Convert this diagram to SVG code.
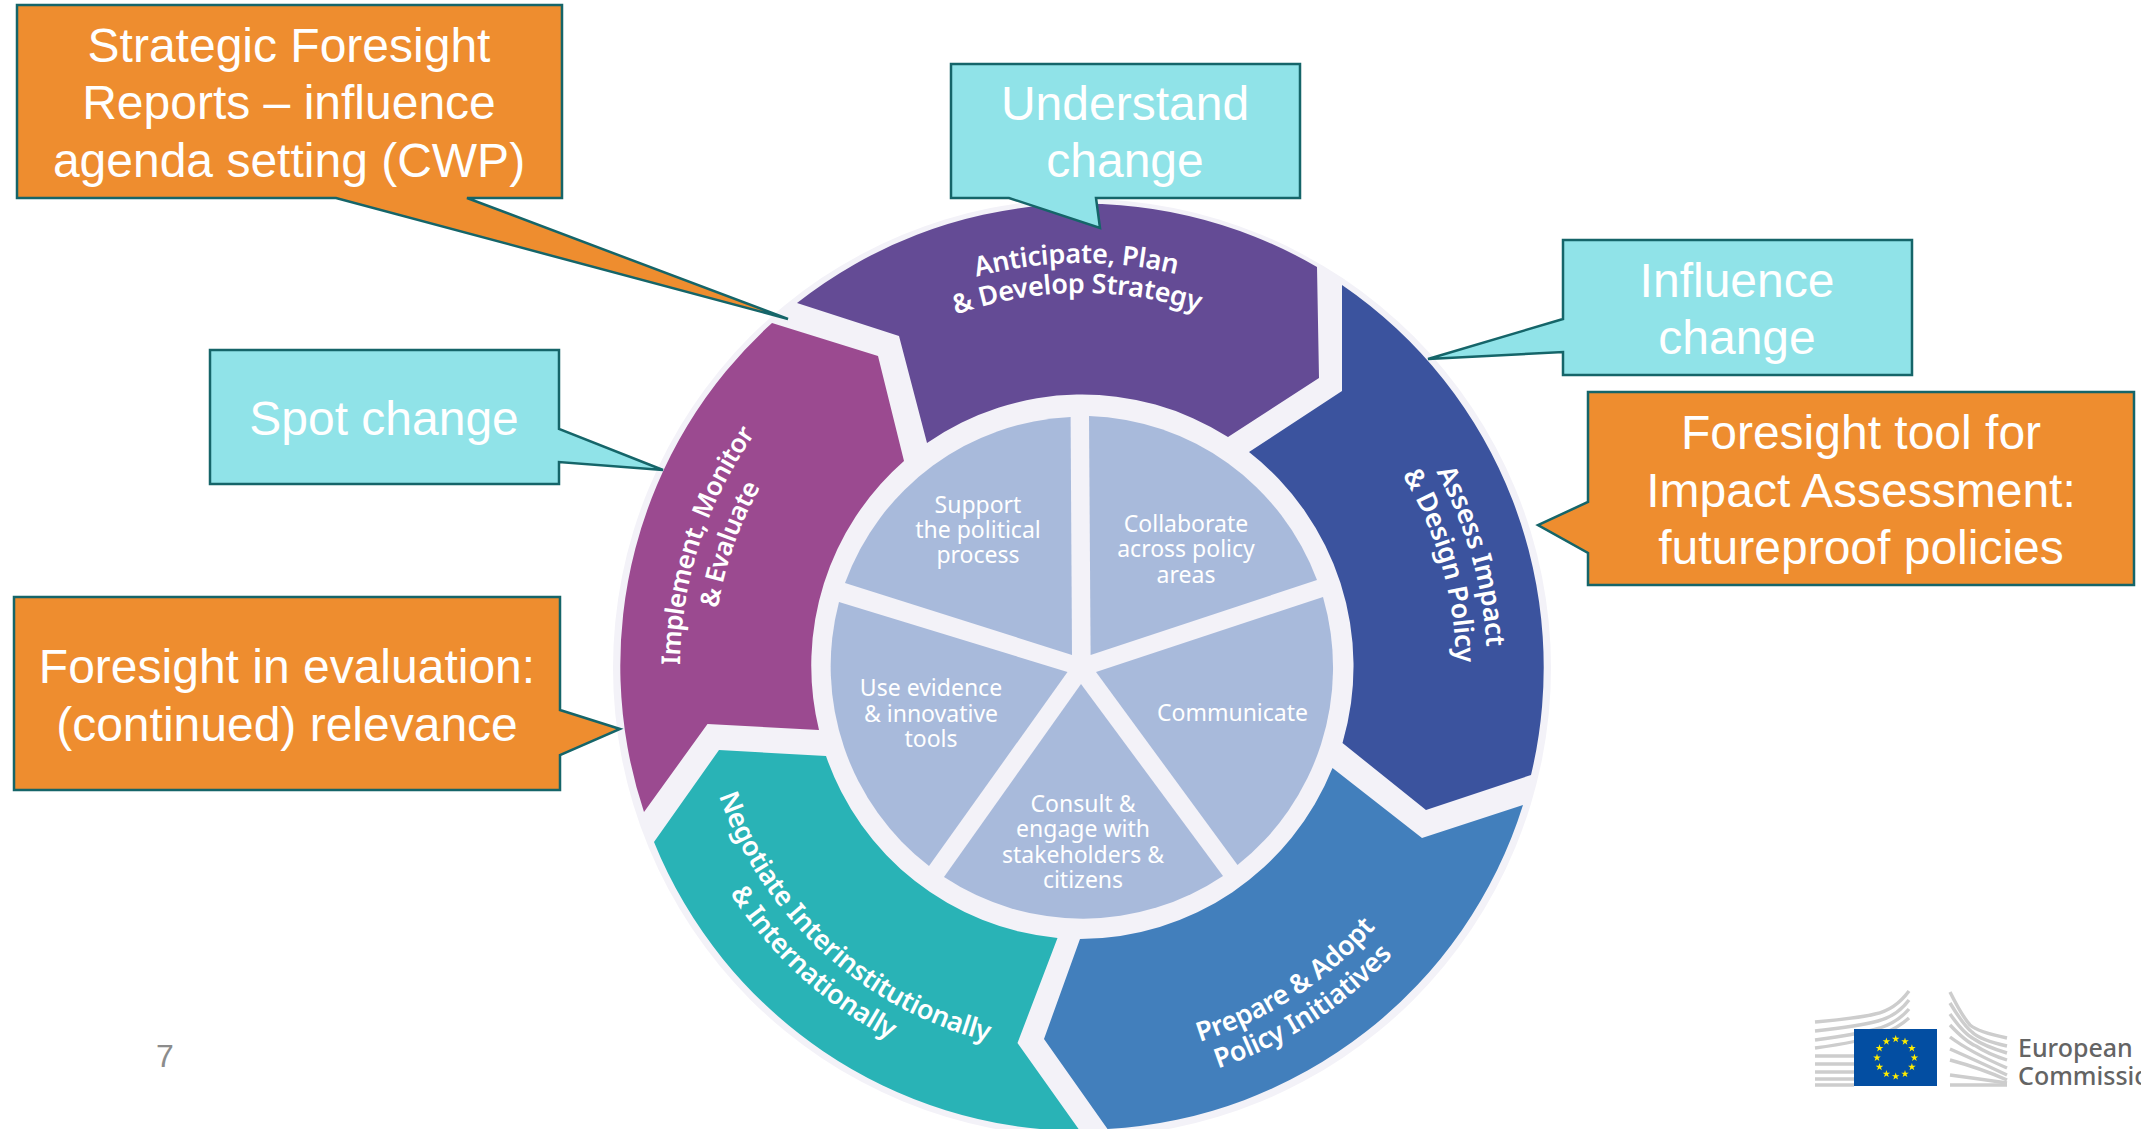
<svg xmlns="http://www.w3.org/2000/svg" width="2141" height="1129" viewBox="0 0 2141 1129">
<style>
.co{fill:#EE8D2F;stroke:#156569;stroke-width:2.5}
.cy{fill:#90E3E8;stroke:#156569;stroke-width:2.5}
.ct{font-family:"Liberation Sans",Arial,sans-serif;font-size:48px;fill:#fff;text-anchor:middle}
.rt{font-family:"Noto Sans",sans-serif;font-size:27px;font-weight:600;fill:#fff;text-anchor:middle;letter-spacing:-.3px}
.im{font-size:26px;letter-spacing:-.6px}
.it{font-family:"Noto Sans",sans-serif;font-size:23px;fill:#fff;text-anchor:middle}
.wedge{fill:#A8BADB}
.bl{fill:none;stroke:#CDCDCD;stroke-width:3.4}
</style>
<defs>
<path id="a1" d="M874.6 320.1A405 405 0 0 1 1279.6 314.4"/>
<path id="a2" d="M890 345.9A375 375 0 0 1 1265 340.6"/>
<path id="b1" d="M1363.3 376.7A405 405 0 0 1 1475 766"/>
<path id="b2" d="M1341.8 399A374 374 0 0 1 1444.9 758.5"/>
<path id="c1" d="M1102.5 1059.5A392 392 0 0 0 1431.3 846"/>
<path id="c2" d="M1104.1 1090.4A423 423 0 0 0 1458.9 860"/>
<path id="d1" d="M706.3 752A385 385 0 0 0 1032.4 1049.8"/>
<path id="d2" d="M674.2 759.2A418 418 0 0 0 1028.2 1082.5"/>
<path id="e1" d="M688.8 751.6A402 402 0 0 1 813 369.3"/>
<path id="e2" d="M719.3 736.5A369 369 0 0 1 841.4 388.3"/>
<polygon id="star" fill="#FFED00" points="0,-4 .9,-1.25 3.8,-1.25 1.5,.45 2.35,3.2 0,1.55 -2.35,3.2 -1.5,.45 -3.8,-1.25 -.9,-1.25"/>
</defs>
<rect width="2141" height="1129" fill="#fff"/>
<circle id="wheel-base" cx="1082" cy="668" r="469" fill="#F3F2F8"/>
<g id="seg-anticipate"><path fill="#644B95" d="M797 303A463 463 0 0 1 1317 267L1319 378L1228 437A272 272 0 0 0 927 443L899 336Z"/>
<text class="rt"><textPath href="#a1" startOffset="50%">Anticipate, Plan</textPath></text>
<text class="rt"><textPath href="#a2" startOffset="50%">&amp; Develop Strategy</textPath></text></g>
<g id="seg-assess"><path fill="#3B539E" d="M1342 285A463 463 0 0 1 1531 775L1426 810L1342.5 743A272 272 0 0 0 1249 452L1342 391Z"/>
<text class="rt"><textPath href="#b1" startOffset="50%">Assess Impact</textPath></text>
<text class="rt"><textPath href="#b2" startOffset="50%">&amp; Design Policy</textPath></text></g>
<g id="seg-prepare"><path fill="#427FBC" d="M1080 939A272 272 0 0 0 1332.5 768L1422 838L1523 805A463 463 0 0 1 1107.5 1129L1044 1039Z"/>
<text class="rt"><textPath href="#c1" startOffset="50%">Prepare &amp; Adopt</textPath></text>
<text class="rt"><textPath href="#c2" startOffset="50%">Policy Initiatives</textPath></text></g>
<g id="seg-negotiate"><path fill="#29B3B6" d="M719 750L826 756A272 272 0 0 0 1057.5 938L1017.5 1043L1080 1131A463 463 0 0 1 654 842Z"/>
<text class="rt"><textPath href="#d1" startOffset="50%">Negotiate Interinstitutionally</textPath></text>
<text class="rt"><textPath href="#d2" startOffset="50%">&amp; Internationally</textPath></text></g>
<g id="seg-implement"><path fill="#9B4A90" d="M772 323A463 463 0 0 0 644 812L707.5 724L819 730A272 272 0 0 1 904 461L878 356Z"/>
<text class="rt im"><textPath href="#e1" startOffset="50%">Implement, Monitor</textPath></text>
<text class="rt im"><textPath href="#e2" startOffset="50%">&amp; Evaluate</textPath></text></g>
<g id="wedge-support"><path class="wedge" d="M1070.6 417A252 252 0 0 0 845 583L1072 655Z"/>
<text class="it" x="978" y="513">Support</text><text class="it" x="978" y="538">the political</text><text class="it" x="978" y="563">process</text></g>
<g id="wedge-collaborate"><path class="wedge" d="M1089 416A252 252 0 0 1 1317 580L1090.6 655Z"/>
<text class="it" x="1186" y="532">Collaborate</text><text class="it" x="1186" y="557">across policy</text><text class="it" x="1186" y="583">areas</text></g>
<g id="wedge-communicate"><path class="wedge" d="M1323 597A252 252 0 0 1 1237.5 865L1096 672Z"/>
<text class="it" x="1232.5" y="721">Communicate</text></g>
<g id="wedge-consult"><path class="wedge" d="M1081 684L1223 876A252 252 0 0 1 944 877Z"/>
<text class="it" x="1083" y="812">Consult &amp;</text><text class="it" x="1083" y="837">engage with</text><text class="it" x="1083" y="863">stakeholders &amp;</text><text class="it" x="1083" y="888">citizens</text></g>
<g id="wedge-evidence"><path class="wedge" d="M1067.5 672L929 866A252 252 0 0 1 839 602Z"/>
<text class="it" x="931" y="696">Use evidence</text><text class="it" x="931" y="722">&amp; innovative</text><text class="it" x="931" y="747">tools</text></g>
<g id="connectors"></g>
<g id="callout-reports"><path class="co" d="M17 5H562V198H467L788 319L336 198H17Z"/>
<text class="ct" x="289" y="62">Strategic Foresight</text><text class="ct" x="289" y="119">Reports – influence</text><text class="ct" x="289" y="177">agenda setting (CWP)</text></g>
<g id="callout-understand"><path class="cy" d="M951 64H1300V198H1096L1100 228L1009 198H951Z"/>
<text class="ct" x="1125" y="120">Understand</text><text class="ct" x="1125" y="177">change</text></g>
<g id="callout-influence"><path class="cy" d="M1563 240H1912V375H1563V352L1428 359L1563 319Z"/>
<text class="ct" x="1737" y="297">Influence</text><text class="ct" x="1737" y="354">change</text></g>
<g id="callout-impact"><path class="co" d="M1588 392H2134V585H1588V553L1538 525L1588 502Z"/>
<text class="ct" x="1861" y="449">Foresight tool for</text><text class="ct" x="1861" y="507">Impact Assessment:</text><text class="ct" x="1861" y="564">futureproof policies</text></g>
<g id="callout-spot"><path class="cy" d="M210 350H559V429L663 470L559 462V484H210Z"/>
<text class="ct" x="384" y="435">Spot change</text></g>
<g id="callout-evaluation"><path class="co" d="M14 597H560V710L620 729L560 755V790H14Z"/>
<text class="ct" x="287" y="683">Foresight in evaluation:</text><text class="ct" x="287" y="741">(continued) relevance</text></g>
<text id="page-number" x="165" y="1067" font-family="Liberation Sans,Arial,sans-serif" font-size="32" fill="#8C8C8C" text-anchor="middle">7</text>
<g id="logo">
<g class="bl">
<path d="M1815 1022Q1860 1018 1875 1014Q1895 1010 1909 991"/>
<path d="M1815 1031Q1860 1026 1878 1021Q1897 1016 1909 1000"/>
<path d="M1815 1040Q1860 1034 1880 1028Q1898 1022 1909 1009"/>
<path d="M1815 1048Q1860 1042 1882 1034Q1898 1028 1909 1018"/>
<path d="M1815 1056H1854M1815 1064H1854M1815 1072H1854M1815 1079H1854M1815 1085H1854"/>
<path d="M1950 992Q1962 1016 1970 1025Q1978 1032 2007 1038"/>
<path d="M1950 1003Q1964 1026 1972 1032Q1980 1040 2007 1046"/>
<path d="M1950 1014Q1964 1034 1974 1039Q1984 1046 2007 1053"/>
<path d="M1950 1025Q1966 1042 1976 1046Q1988 1054 2007 1060"/>
<path d="M1950 1037Q1970 1052 2007 1068"/>
<path d="M1950 1049Q1975 1060 2007 1075"/>
<path d="M1950 1060Q1980 1068 2007 1080"/>
<path d="M1950 1075Q1980 1079 2007 1083"/>
<path d="M1950 1085H2007"/>
</g>
<rect x="1854" y="1029" width="83" height="57" fill="#034EA2"/>
<use href="#star" x="1895.7" y="1039"/><use href="#star" x="1905" y="1041.5"/><use href="#star" x="1911.9" y="1048.3"/><use href="#star" x="1914.4" y="1057.7"/><use href="#star" x="1911.9" y="1067"/><use href="#star" x="1905" y="1073.9"/><use href="#star" x="1895.7" y="1076.4"/><use href="#star" x="1886.4" y="1073.9"/><use href="#star" x="1879.5" y="1067"/><use href="#star" x="1877" y="1057.7"/><use href="#star" x="1879.5" y="1048.3"/><use href="#star" x="1886.4" y="1041.5"/>
<text x="2018" y="1057" font-family="Noto Sans,sans-serif" font-size="25" font-weight="500" fill="#646464">European</text>
<text x="2018" y="1085" font-family="Noto Sans,sans-serif" font-size="25" font-weight="500" fill="#646464">Commission</text>
</g>
</svg>
